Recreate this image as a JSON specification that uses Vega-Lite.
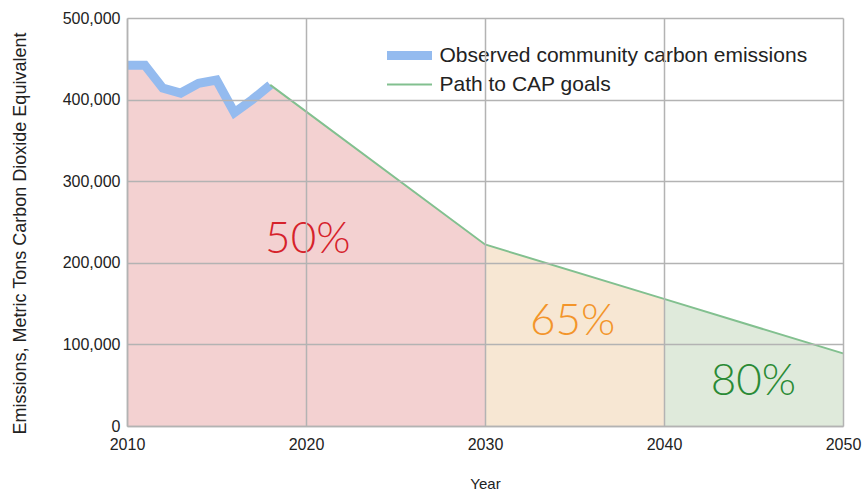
{
  "$schema": "https://vega.github.io/schema/vega-lite/v6.json",
  "width": 716,
  "height": 408,
  "autosize": "none",
  "padding": {"left": 127, "top": 18, "right": 22, "bottom": 66},
  "background": "white",
  "config": {
    "view": {"stroke": null},
    "font": "Liberation Sans",
    "axis": {
      "gridColor": "#b3b3b3",
      "gridWidth": 1.5,
      "domainColor": "#b3b3b3",
      "domainWidth": 1.5,
      "ticks": false,
      "labelFont": "Liberation Sans",
      "labelFontSize": 16,
      "labelColor": "#222222",
      "titleFont": "Liberation Sans",
      "titleFontSize": 15,
      "titleFontWeight": "normal",
      "titleColor": "#222222"
    }
  },
  "datasets": {
    "zones": [
      {"year": 2010, "value": 442000, "zone": "50"},
      {"year": 2011, "value": 442000, "zone": "50"},
      {"year": 2012, "value": 414000, "zone": "50"},
      {"year": 2013, "value": 408000, "zone": "50"},
      {"year": 2014, "value": 420000, "zone": "50"},
      {"year": 2015, "value": 424000, "zone": "50"},
      {"year": 2016, "value": 384000, "zone": "50"},
      {"year": 2017, "value": 400000, "zone": "50"},
      {"year": 2018, "value": 418000, "zone": "50"},
      {"year": 2030, "value": 222500, "zone": "50"},
      {"year": 2030, "value": 222500, "zone": "65"},
      {"year": 2040, "value": 155750, "zone": "65"},
      {"year": 2040, "value": 155750, "zone": "80"},
      {"year": 2050, "value": 89000, "zone": "80"}
    ],
    "lines": [
      {"year": 2010, "value": 442000, "series": "Observed community carbon emissions"},
      {"year": 2011, "value": 442000, "series": "Observed community carbon emissions"},
      {"year": 2012, "value": 414000, "series": "Observed community carbon emissions"},
      {"year": 2013, "value": 408000, "series": "Observed community carbon emissions"},
      {"year": 2014, "value": 420000, "series": "Observed community carbon emissions"},
      {"year": 2015, "value": 424000, "series": "Observed community carbon emissions"},
      {"year": 2016, "value": 384000, "series": "Observed community carbon emissions"},
      {"year": 2017, "value": 400000, "series": "Observed community carbon emissions"},
      {"year": 2018, "value": 418000, "series": "Observed community carbon emissions"},
      {"year": 2018, "value": 418000, "series": "Path to CAP goals"},
      {"year": 2030, "value": 222500, "series": "Path to CAP goals"},
      {"year": 2040, "value": 155750, "series": "Path to CAP goals"},
      {"year": 2050, "value": 89000, "series": "Path to CAP goals"}
    ],
    "labels": [
      {"year": 2020.1, "value": 228000, "label": "50%"},
      {"year": 2034.9, "value": 128000, "label": "65%"},
      {"year": 2045.0, "value": 54000, "label": "80%"}
    ]
  },
  "encoding": {
    "x": {
      "field": "year", "type": "quantitative",
      "scale": {"domain": [2010, 2050], "nice": false, "zero": false},
      "axis": {"values": [2010, 2020, 2030, 2040, 2050], "format": "d", "title": "Year", "zindex": 1, "labelFlush": false, "labelPadding": 10, "titlePadding": 24}
    },
    "y": {
      "field": "value", "type": "quantitative", "stack": null,
      "scale": {"domain": [0, 500000], "nice": false},
      "axis": {"values": [0, 100000, 200000, 300000, 400000, 500000], "format": ",.0f", "title": "Emissions, Metric Tons Carbon Dioxide Equivalent", "zindex": 1, "titleFontSize": 18, "titleY": 215, "labelPadding": 7, "titlePadding": 33}
    }
  },
  "layer": [
    {
      "data": {"name": "zones"},
      "mark": {"type": "area", "opacity": 1},
      "encoding": {
        "fill": {"field": "zone", "type": "nominal", "scale": {"domain": ["50", "65", "80"], "range": ["#f3d1d1", "#f7e7d3", "#dfeadb"]}, "legend": null}
      }
    },
    {
      "data": {"name": "lines"},
      "mark": {"type": "line", "strokeJoin": "miter", "strokeCap": "butt"},
      "encoding": {
        "stroke": {"field": "series", "type": "nominal", "scale": {"domain": ["Observed community carbon emissions", "Path to CAP goals"], "range": ["#94bbef", "#82c08f"]},
          "legend": {"orient": "none", "legendX": 272, "legendY": 27, "padding": 0, "title": null, "symbolType": "M-5,0H5", "symbolSize": 81, "labelFontSize": 21, "labelColor": "#222222", "labelFont": "Liberation Sans", "labelLimit": 600, "rowPadding": -13, "labelOffset": 19.5}},
        "strokeWidth": {"field": "series", "type": "nominal", "scale": {"domain": ["Observed community carbon emissions", "Path to CAP goals"], "range": [9, 2]}},
        "order": {"field": "year", "type": "quantitative"}
      }
    },
    {
      "data": {"name": "labels"},
      "mark": {"type": "text", "font": "Lato", "fontSize": 44, "fontWeight": 300, "baseline": "middle", "align": "center"},
      "encoding": {
        "text": {"field": "label", "type": "nominal"},
        "color": {"field": "label", "type": "nominal", "scale": {"domain": ["50%", "65%", "80%"], "range": ["#d6222b", "#f3952a", "#2a8a35"]}, "legend": null}
      }
    }
  ]
}
